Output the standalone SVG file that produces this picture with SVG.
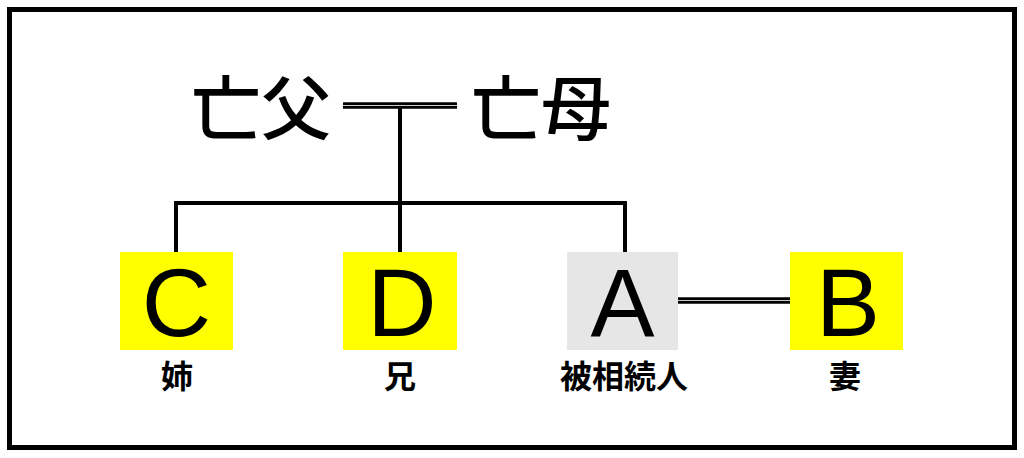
<svg xmlns="http://www.w3.org/2000/svg" width="1024" height="458" viewBox="0 0 1024 458">
<style>
.jp{font-family:"Noto Sans CJK JP","Noto Sans CJK SC",sans-serif;fill:#000}
.big{font-size:70px;font-weight:500}
.lbl{font-size:32px;font-weight:bold}
.let{font-family:"Liberation Sans",Arial,sans-serif;font-size:96px;fill:#000}
.ln{stroke:#000;stroke-width:4;fill:none}
.dbl{stroke:#000;stroke-width:6.5;fill:none}
.dbl2{stroke:#ccc;stroke-width:1.2;fill:none}
</style>
<rect x="0" y="0" width="1024" height="458" fill="#fff"/>
<rect x="9.5" y="9.5" width="1005" height="438" fill="none" stroke="#000" stroke-width="5"/>
<g id="connectors">
<line class="dbl" x1="343" y1="105.5" x2="457" y2="105.5"/>
<line class="dbl2" x1="343" y1="105.5" x2="457" y2="105.5"/>
<line class="ln" x1="400" y1="108" x2="400" y2="252"/>
<polyline class="ln" points="176,252 176,203 625,203 625,252"/>
<line class="dbl" x1="677" y1="300.5" x2="791" y2="300.5"/>
<line class="dbl2" x1="677" y1="300.5" x2="791" y2="300.5"/>
</g>
<g id="father"><text class="jp big" x="261" y="104" text-anchor="middle" dominant-baseline="central">亡父</text></g>
<g id="mother"><text class="jp big" x="541" y="104" text-anchor="middle" dominant-baseline="central">亡母</text></g>
<g id="C">
<rect x="120" y="252" width="113" height="98" fill="#ffff00"/>
<text class="let" x="176.5" y="336" text-anchor="middle">C</text>
<text class="jp lbl" x="177" y="374" text-anchor="middle" dominant-baseline="central">姉</text>
</g>
<g id="D">
<rect x="343" y="252" width="114" height="98" fill="#ffff00"/>
<text class="let" x="402" y="336" text-anchor="middle">D</text>
<text class="jp lbl" x="400" y="374" text-anchor="middle" dominant-baseline="central">兄</text>
</g>
<g id="A">
<rect x="567" y="252" width="111" height="98" fill="#e6e6e6"/>
<text class="let" x="622.5" y="336" text-anchor="middle">A</text>
<text class="jp lbl" x="624" y="374" text-anchor="middle" dominant-baseline="central">被相続人</text>
</g>
<g id="B">
<rect x="790" y="252" width="113" height="98" fill="#ffff00"/>
<text class="let" x="848" y="336" text-anchor="middle">B</text>
<text class="jp lbl" x="845" y="374" text-anchor="middle" dominant-baseline="central">妻</text>
</g>
</svg>
